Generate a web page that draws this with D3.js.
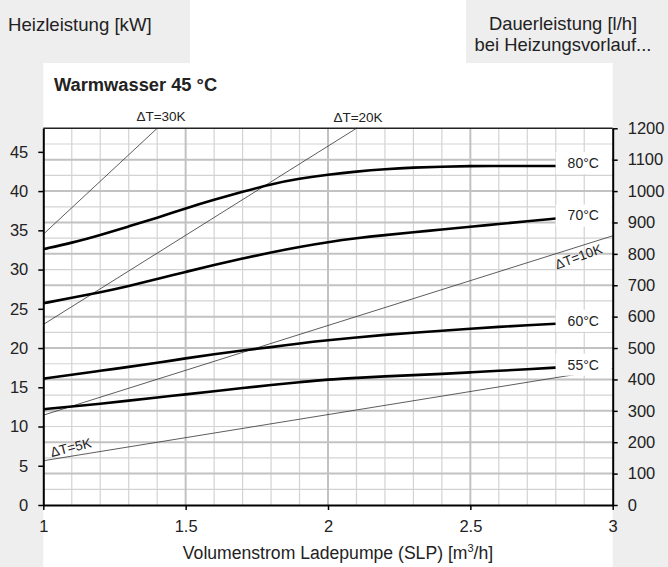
<!DOCTYPE html>
<html>
<head>
<meta charset="utf-8">
<script src="https://cdn.jsdelivr.net/npm/d3@7"></script>
<style>
  body { margin: 0; background: #ffffff; }
  svg { display: block; font-family: "Liberation Sans", Arial, Helvetica, sans-serif; }
</style>
</head>
<body>
<svg id="chart" width="668" height="567"></svg>
<script>
// Volume flow of the charging pump [m³/h], shared by all heating-flow curves
const flowRate = [1.0, 1.1, 1.2, 1.3, 1.4, 1.5, 1.6, 1.7, 1.8, 1.9, 2.0, 2.1, 2.2, 2.3, 2.4, 2.5, 2.6, 2.7, 2.8];

// Heating output [kW] per heating flow temperature
const curveNames = ["80°C", "70°C", "60°C", "55°C"];
const output80 = [32.6, 33.4, 34.4, 35.5, 36.6, 37.8, 38.9, 39.9, 40.9, 41.6, 42.1, 42.5, 42.8, 43.0, 43.1, 43.2, 43.2, 43.2, 43.2];
const output70 = [25.7, 26.4, 27.1, 27.9, 28.8, 29.7, 30.6, 31.4, 32.2, 32.9, 33.5, 34.0, 34.4, 34.75, 35.1, 35.45, 35.8, 36.15, 36.5];
const output60 = [16.1, 16.6, 17.1, 17.6, 18.1, 18.7, 19.2, 19.7, 20.1, 20.6, 21.0, 21.35, 21.7, 21.95, 22.2, 22.45, 22.7, 22.9, 23.1];
const output55 = [12.2, 12.55, 12.9, 13.3, 13.7, 14.1, 14.5, 14.9, 15.3, 15.65, 16.0, 16.2, 16.4, 16.55, 16.7, 16.9, 17.1, 17.3, 17.5];

// Constant temperature-spread lines: start and end point [flow, kW]
const spreadNames = ["ΔT=30K", "ΔT=20K", "ΔT=10K", "ΔT=5K"];
const spreadStart = [[1, 34.5], [1, 23.0], [1, 11.45], [1, 5.64]];
const spreadEnd = [[1.4, 48], [2.1, 48], [3, 34.3], [3, 17.4]];

// Axis ticks
const flowTicks = [1, 1.5, 2, 2.5, 3];
const powerTicks = [0, 5, 10, 15, 20, 25, 30, 35, 40, 45];
const rateTicks = [0, 100, 200, 300, 400, 500, 600, 700, 800, 900, 1000, 1100, 1200];

const svg = d3.select("#chart");
const W = 668, H = 567;
const plot = { left: 43.3, right: 612.7, top: 128.3, bottom: 505 };

const x = d3.scaleLinear().domain([1, 3]).range([plot.left, plot.right]);
const y = d3.scaleLinear().domain([0, 48]).range([plot.bottom, plot.top]);
const yRate = d3.scaleLinear().domain([0, 1200]).range([plot.bottom, plot.top]);

const grey = "#eeeeee";

// Grey side panels behind the axis titles
svg.append("rect").attr("x", 0).attr("y", 0).attr("width", W).attr("height", H).attr("fill", "#ffffff");
svg.append("rect").attr("x", 0).attr("y", 0).attr("width", 190).attr("height", 63).attr("fill", grey);
svg.append("rect").attr("x", 0).attr("y", 0).attr("width", plot.left).attr("height", H).attr("fill", grey);
svg.append("rect").attr("x", 466).attr("y", 0).attr("width", W - 466).attr("height", 63).attr("fill", grey);
svg.append("rect").attr("x", plot.right).attr("y", 0).attr("width", W - plot.right).attr("height", H).attr("fill", grey);

// Grid: minor every 0.1 m³/h and 50 l/h, major every 0.5 m³/h and 100 l/h
const grid = svg.append("g");
const minorX = d3.range(11, 30).map(d => d / 10).filter(d => Math.abs(d * 2 - Math.round(d * 2)) > 1e-6);
const majorX = [1.5, 2, 2.5];
const minorY = d3.range(50, 1200, 100);
const majorY = d3.range(100, 1200, 100);

grid.selectAll(".vminor").data(minorX).join("line")
  .attr("x1", d => x(d)).attr("x2", d => x(d))
  .attr("y1", plot.top).attr("y2", plot.bottom)
  .attr("stroke", "#d3d3d3").attr("stroke-width", 1.2);
grid.selectAll(".hminor").data(minorY).join("line")
  .attr("x1", plot.left).attr("x2", plot.right)
  .attr("y1", d => yRate(d)).attr("y2", d => yRate(d))
  .attr("stroke", "#d3d3d3").attr("stroke-width", 1.2);
grid.selectAll(".vmajor").data(majorX).join("line")
  .attr("x1", d => x(d)).attr("x2", d => x(d))
  .attr("y1", plot.top).attr("y2", plot.bottom)
  .attr("stroke", "#c2c2c2").attr("stroke-width", 2);
grid.selectAll(".hmajor").data(majorY).join("line")
  .attr("x1", plot.left).attr("x2", plot.right)
  .attr("y1", d => yRate(d)).attr("y2", d => yRate(d))
  .attr("stroke", "#c2c2c2").attr("stroke-width", 2);

// Temperature-spread lines
svg.append("g").selectAll("line").data(spreadNames).join("line")
  .attr("x1", (d, i) => x(spreadStart[i][0])).attr("y1", (d, i) => y(spreadStart[i][1]))
  .attr("x2", (d, i) => x(spreadEnd[i][0])).attr("y2", (d, i) => y(spreadEnd[i][1]))
  .attr("stroke", "#333333").attr("stroke-width", 0.8);

// Heating-output curves
const series = [output80, output70, output60, output55];
const line = d3.line().x((d, i) => x(flowRate[i])).y(d => y(d)).curve(d3.curveBasis);
svg.append("g").selectAll("path").data(series).join("path")
  .attr("d", d => line(d))
  .attr("fill", "none").attr("stroke", "#000000").attr("stroke-width", 2.6);

// Curve labels on white boxes
const lastFlow = flowRate[flowRate.length - 1];
const labels = svg.append("g");
series.forEach((s, i) => {
  const cy = y(s[s.length - 1]) - 3;
  labels.append("rect")
    .attr("x", x(lastFlow)).attr("y", cy - 11)
    .attr("width", plot.right - 1 - x(lastFlow)).attr("height", 22)
    .attr("fill", "#ffffff");
  labels.append("text")
    .attr("x", x(lastFlow) + 27.5).attr("y", cy)
    .attr("dy", "0.35em").attr("text-anchor", "middle")
    .attr("font-size", 14).attr("fill", "#222")
    .text(curveNames[i]);
});

// Spread labels
const spreadLabelPos = [
  { x: 161, y: 121, r: 0 },
  { x: 358, y: 121.5, r: 0 },
  { x: 580, y: 261, r: -20 },
  { x: 72, y: 452, r: -14 }
];
svg.append("g").selectAll("text").data(spreadNames).join("text")
  .attr("transform", (d, i) => `translate(${spreadLabelPos[i].x},${spreadLabelPos[i].y}) rotate(${spreadLabelPos[i].r})`)
  .attr("text-anchor", "middle").attr("font-size", 13.5).attr("fill", "#222")
  .text(d => d);

// Top frame line
svg.append("line")
  .attr("x1", plot.left).attr("x2", plot.right)
  .attr("y1", plot.top).attr("y2", plot.top)
  .attr("stroke", "#222").attr("stroke-width", 1.5);

// Axes
function styleAxis(g) {
  g.select(".domain").attr("stroke", "#000").attr("stroke-width", 2);
  g.selectAll(".tick line").attr("stroke", "#000").attr("stroke-width", 1.5);
  g.selectAll(".tick text").attr("fill", "#222").attr("font-size", 16.5)
    .attr("font-family", '"Liberation Sans", Arial, sans-serif');
}
svg.append("g").attr("transform", `translate(0,${plot.bottom})`)
  .call(d3.axisBottom(x).tickValues(flowTicks).tickSize(5).tickSizeOuter(0).tickPadding(10).tickFormat(d3.format("")))
  .call(styleAxis);
svg.append("g").attr("transform", `translate(${plot.left},0)`)
  .call(d3.axisLeft(y).tickValues(powerTicks).tickSize(5).tickSizeOuter(0).tickPadding(10).tickFormat(d3.format("d")))
  .call(styleAxis);
svg.append("g").attr("transform", `translate(${plot.right},0)`)
  .call(d3.axisRight(yRate).tickValues(rateTicks).tickSize(5).tickSizeOuter(0).tickPadding(10).tickFormat(d3.format("d")))
  .call(styleAxis);

// Titles
svg.append("text").attr("x", 8).attr("y", 31).attr("font-size", 18.6).attr("fill", "#222")
  .text("Heizleistung [kW]");
const rt = svg.append("text").attr("text-anchor", "middle").attr("font-size", 18.4).attr("fill", "#222");
rt.append("tspan").attr("x", 563).attr("y", 30).text("Dauerleistung [l/h]");
rt.append("tspan").attr("x", 563).attr("y", 51).text("bei Heizungsvorlauf...");
svg.append("text").attr("x", 54).attr("y", 91).attr("font-size", 18.3).attr("font-weight", "bold").attr("fill", "#222")
  .text("Warmwasser 45 °C");
const xt = svg.append("text").attr("x", 338).attr("y", 559).attr("text-anchor", "middle")
  .attr("font-size", 17.6).attr("fill", "#222");
xt.append("tspan").text("Volumenstrom Ladepumpe (SLP) [m");
xt.append("tspan").attr("font-size", 11).attr("dy", -7).text("3");
xt.append("tspan").attr("dy", 7).text("/h]");
</script>
</body>
</html>
